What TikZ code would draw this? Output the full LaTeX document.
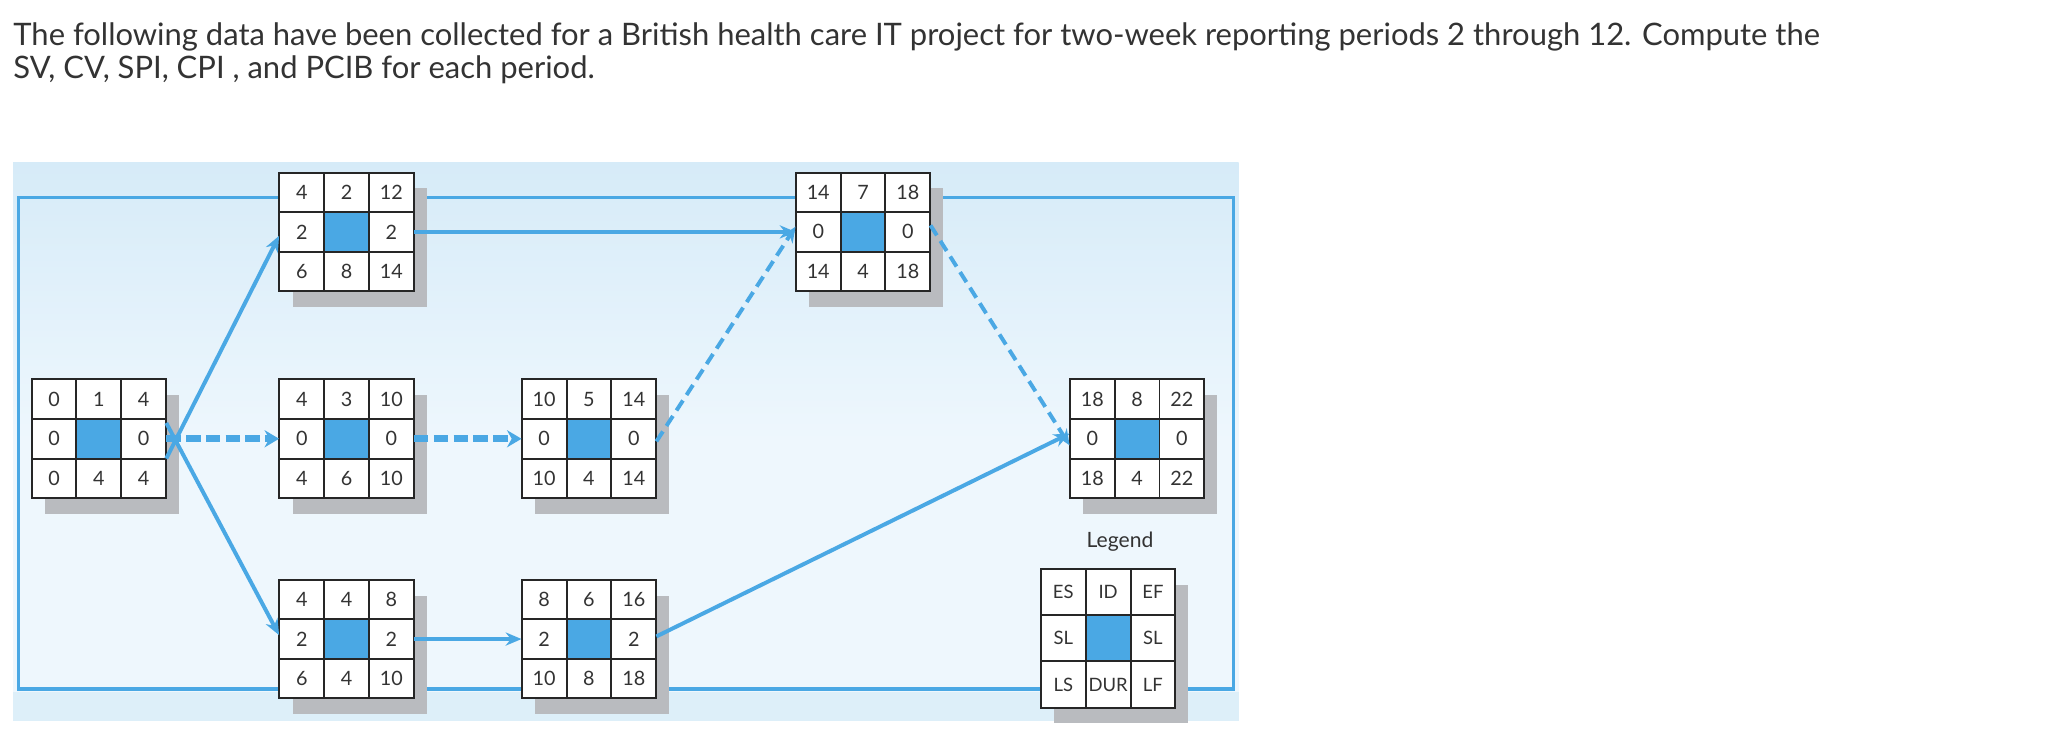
\documentclass[tikz,border=0pt]{standalone}
\usepackage{fontspec}
\setmainfont{Lato}
\usetikzlibrary{arrows.meta,calc}
\definecolor{ln}{HTML}{4AA8E4}
\definecolor{bgA}{HTML}{D6EBF8}
\definecolor{bgB}{HTML}{EEF7FD}
\definecolor{shd}{HTML}{B9BBBF}
\definecolor{txt}{HTML}{333333}
\newcommand{\actnode}[3]{%
  \fill[shd] ($(#2)+(10,12)$) rectangle ++(102,90);
  \node[box] (#1) at ($(#2)+(51,45)$) {};
  \fill[ln] ($(#2)+(34,30)$) rectangle ++(34,30);
  \draw[cell] (#2) rectangle ++(102,90);
  \draw[cell] ($(#2)+(34,0)$) -- ++(0,90) ($(#2)+(68,0)$) -- ++(0,90)
              ($(#2)+(0,30)$) -- ++(102,0) ($(#2)+(0,60)$) -- ++(102,0);
  \foreach \t [count=\i from 0] in {#3} {
    \pgfmathtruncatemacro\c{mod(\i,3)}\pgfmathtruncatemacro\r{div(\i,3)}
    \node[num] at ($(#2)+(17+34*\c,15+30*\r)$) {\t};}
}
\begin{document}
\begin{tikzpicture}[x=1pt,y=-1pt,
  box/.style={minimum width=102pt,minimum height=90pt,inner sep=0pt,fill=white,draw=none},
  cell/.style={draw=black!85,line width=1.5pt},
  num/.style={font=\fontsize{15}{15}\selectfont,text=txt},
  con/.style={draw=ln,line width=3pt,-{Stealth[length=12pt,width=10pt]}},
  dcon/.style={con,dash pattern=on 9pt off 5pt},
  ddcon/.style={con,line width=5pt,dash pattern=on 11pt off 4pt,-{Stealth[length=11pt,width=13pt]}}]
\useasboundingbox (0,0) rectangle (1568,565);
\node[anchor=north west,align=left,inner sep=0pt,text=txt,font=\fontsize{23.5}{25}\selectfont] (q) at (10,17)
 {The following data have been collected for a British health care IT project for two-week reporting periods 2 through 12. Compute the\\SV, CV, SPI, CPI , and PCIB for each period.};
\shade[top color=bgA,bottom color=bgB,middle color=bgB] (10,123) rectangle (940,547);
\fill[bgA!70!bgB] (10,525) rectangle (940,547);
\draw[ln,line width=2.6pt] (14,150) rectangle (936,523);
\coordinate (pS) at (24,288); \coordinate (pA) at (212,131); \coordinate (pB) at (212,288);
\coordinate (pC) at (396,288); \coordinate (pD) at (604,131); \coordinate (pE) at (812,288);
\coordinate (pF) at (212,440); \coordinate (pG) at (396,440);
\actnode{S}{pS}{0,1,4,0,,0,0,4,4}
\actnode{A}{pA}{4,2,12,2,,2,6,8,14}
\actnode{B}{pB}{4,3,10,0,,0,4,6,10}
\actnode{C}{pC}{10,5,14,0,,0,10,4,14}
\actnode{D}{pD}{14,7,18,0,,0,14,4,18}
\actnode{E}{pE}{18,8,22,0,,0,18,4,22}
\actnode{F}{pF}{4,4,8,2,,2,6,4,10}
\actnode{G}{pG}{8,6,16,2,,2,10,8,18}
% legend
\fill[shd] (800,444) rectangle ++(102,105);
\node[box,minimum height=105pt] (L) at (841,484.5) {};
\fill[ln] (824,467) rectangle ++(34,35);
\draw[cell] (790,432) rectangle ++(102,105);
\draw[cell] (824,432) -- ++(0,105) (858,432) -- ++(0,105) (790,467) -- ++(102,0) (790,502) -- ++(102,0);
\foreach \t/\xx/\yy in {ES/807/449.5,ID/841/449.5,EF/875/449.5,SL/807/484.5,SL/875/484.5,LS/807/519.5,DUR/841/519.5,LF/875/519.5}
  \node[num,font=\fontsize{14}{14}\selectfont,inner sep=0pt] at (\xx,\yy) {\t};
\node[num,font=\fontsize{16}{16}\selectfont] (lt) at (850,411) {Legend};
% connectors
\draw[con] ([yshift=-15pt]S.east) -- ([yshift=-3pt]A.west);
\draw[con] ([yshift=12pt]S.east) -- ([yshift=3pt]F.west);
\draw[ddcon] (S.east) -- (B.west);
\draw[ddcon] (B.east) -- (C.west);
\draw[con] (A.east) -- (D.west);
\draw[con] (F.east) -- (G.west);
\draw[dcon] ([yshift=-2pt]C.east) -- ([yshift=4pt]D.west);
\draw[dcon] ([yshift=5pt]D.east) -- ([yshift=-5pt]E.west);
\draw[con] ([yshift=2pt]G.east) -- ([yshift=4pt]E.west);
\end{tikzpicture}
\end{document}
